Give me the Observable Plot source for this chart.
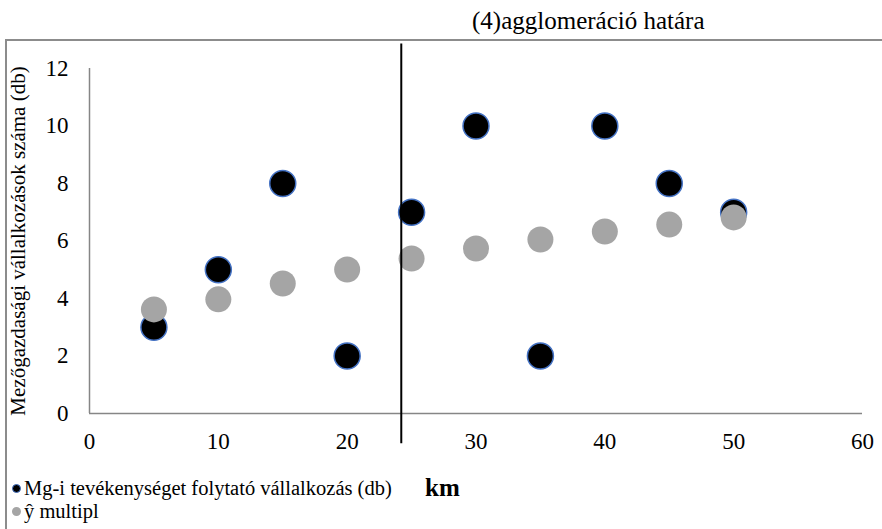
<!DOCTYPE html>
<html>
<head>
<meta charset="utf-8">
<script src="https://cdn.jsdelivr.net/npm/d3@7"></script>
<script src="https://cdn.jsdelivr.net/npm/@observablehq/plot@0.6"></script>
<style>
  html, body { margin: 0; padding: 0; background: #fff; overflow: hidden; }
  body { width: 882px; height: 529px; position: relative; font-family: "Liberation Serif", "Times New Roman", Times, "DejaVu Serif", serif; }
  #frame { position: absolute; left: 5px; top: 39px; width: 900px; height: 600px; border-left: 2px solid #8c8c8c; border-top: 2px solid #8c8c8c; }
  #chart { position: absolute; left: 0; top: 0; }
  #title { position: absolute; left: 472px; top: 7px; font-size: 25px; color: #000; white-space: nowrap; }
  .leg { position: absolute; left: 12px; font-size: 20.5px; white-space: nowrap; display: flex; align-items: center; }
  .dot { display: inline-block; width: 9px; height: 9px; border-radius: 50%; margin-right: 3px; }
  #km { position: absolute; left: 425px; top: 474px; font-size: 25px; font-weight: bold; }
</style>
</head>
<body>
<div id="frame"></div>
<div id="chart"></div>
<div id="title">(4)agglomeráció határa</div>
<div class="leg" style="top:477px"><span class="dot" style="background:#000;border:1.5px solid #4472c4;width:7px;height:7px"></span>Mg-i tevékenységet folytató vállalkozás (db)</div>
<div id="km">km</div>
<div class="leg" style="top:500px"><span class="dot" style="background:#a5a5a5"></span>ŷ multipl</div>
<script>
const km = [5, 10, 15, 20, 25, 30, 35, 40, 45, 50];
const actual = [3, 5, 8, 2, 7, 10, 2, 10, 8, 7];
const fitted = [3.62, 3.97, 4.52, 5.01, 5.39, 5.74, 6.05, 6.33, 6.57, 6.82];
const xTicks = [0, 10, 20, 30, 40, 50, 60];
const yTicks = [0, 2, 4, 6, 8, 10, 12];
const boundaryKm = 24.2;
const boundaryY = [-1.05, 12.85];
const yLabel = "Mezőgazdasági vállalkozások száma (db)";

const actualData = km.map((k, i) => ({km: k, v: actual[i]}));
const fittedData = km.map((k, i) => ({km: k, v: fitted[i]}));

const chart = Plot.plot({
  width: 882,
  height: 529,
  marginLeft: 89,
  marginRight: 20,
  marginTop: 68,
  marginBottom: 116,
  style: {fontFamily: "'Liberation Serif', 'Times New Roman', Times, 'DejaVu Serif', serif", background: "transparent", color: "#000"},
  x: {domain: [0, 60]},
  y: {domain: [0, 12]},
  marks: [
    Plot.axisX({ticks: xTicks, tickSize: 0, tickPadding: 19, fontSize: 23, label: null, tickFormat: d => String(d)}),
    Plot.axisY({ticks: yTicks, tickSize: 0, tickPadding: 21, fontSize: 23, label: null, tickFormat: d => String(d)}),
    Plot.ruleY([0], {stroke: "#868686", strokeWidth: 1.5}),
    Plot.ruleX([0], {stroke: "#868686", strokeWidth: 1.5}),
    Plot.text([yLabel], {frameAnchor: "left", textAnchor: "middle", rotate: -90, dx: -71, fontSize: 21, fill: "#000"}),
    Plot.dot(actualData, {x: "km", y: "v", r: 13, fill: "#000", stroke: "#4472c4", strokeWidth: 1.5}),
    Plot.dot(fittedData, {x: "km", y: "v", r: 13, fill: "#a5a5a5", stroke: "none"}),
    Plot.ruleX([boundaryKm], {y1: boundaryY[0], y2: boundaryY[1], stroke: "#000", strokeWidth: 2, clip: false})
  ]
});
document.getElementById("chart").appendChild(chart);
</script>
</body>
</html>
